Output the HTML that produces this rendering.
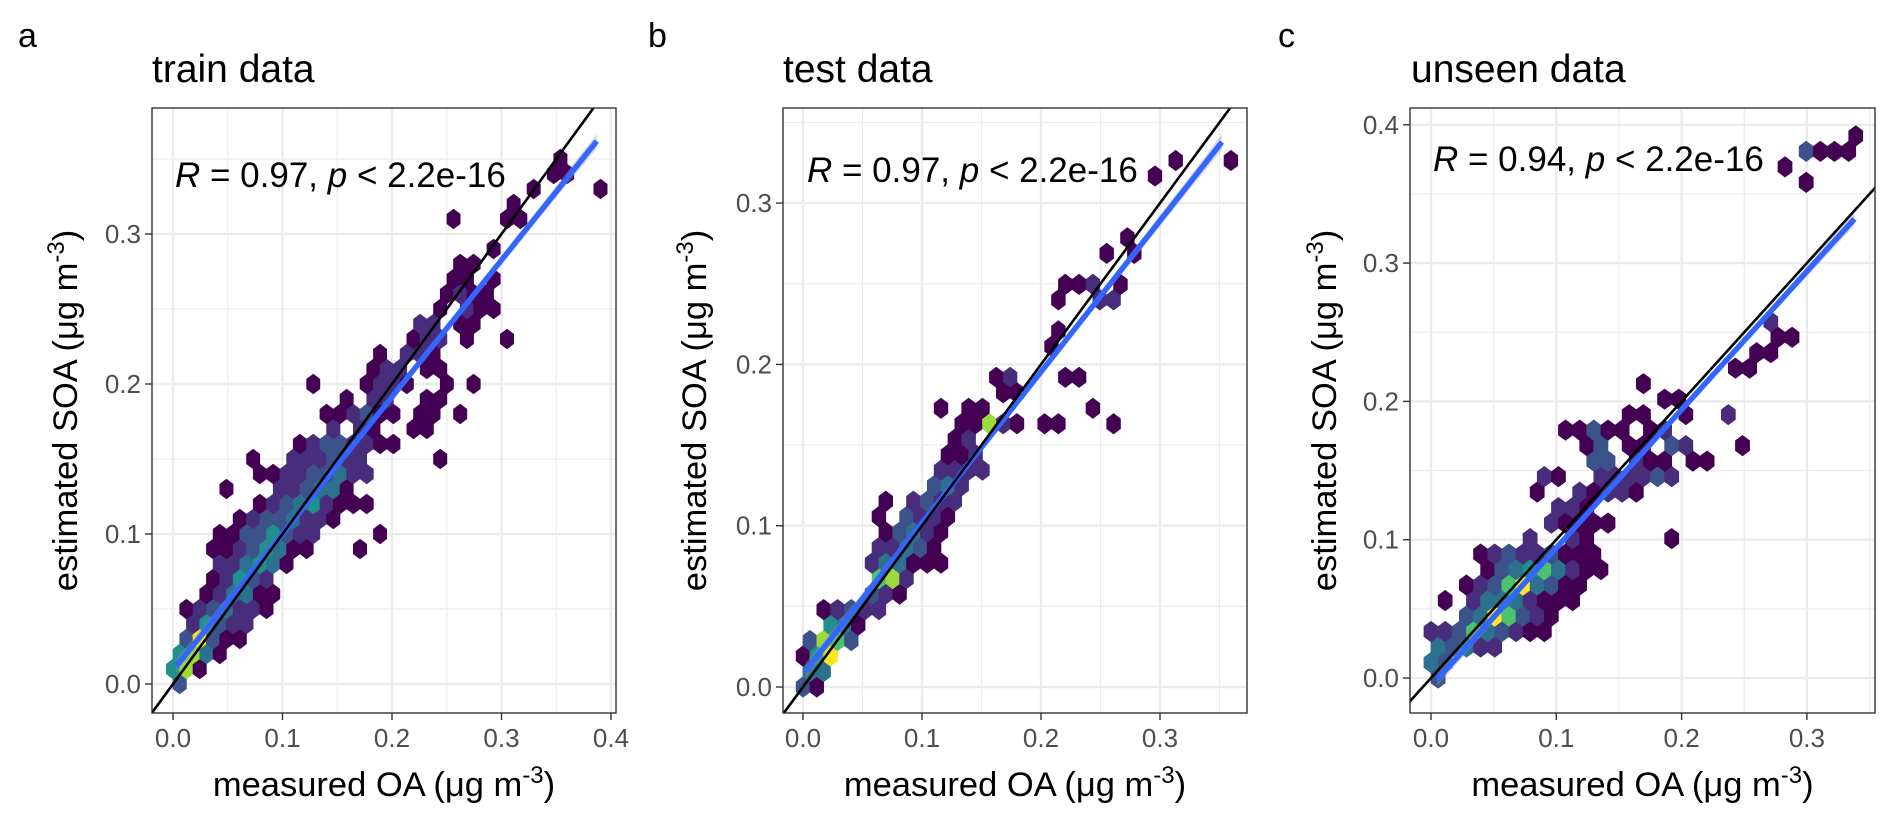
<!DOCTYPE html>
<html>
<head>
<meta charset="utf-8">
<style>
html,body{margin:0;padding:0;background:#fff;}
svg{display:block;font-family:"Liberation Sans",Arial,sans-serif;}
</style>
</head>
<body>
<svg id="fig" width="1892" height="821" viewBox="0 0 1892 821" xmlns="http://www.w3.org/2000/svg">
<rect x="0" y="0" width="1892" height="821" fill="#fff"/>
</svg>
<script>
// ---------- DATA ----------
const panelLabels = ["a", "b", "c"];
const panelTitles = ["train data", "test data", "unseen data"];
const rValues = ["0.97", "0.97", "0.94"];
const xTicksA = [0, 0.1, 0.2, 0.3, 0.4];
const yTicksA = [0, 0.1, 0.2, 0.3];
const xTicksB = [0, 0.1, 0.2, 0.3];
const yTicksB = [0, 0.1, 0.2, 0.3];
const xTicksC = [0, 0.1, 0.2, 0.3];
const yTicksC = [0, 0.1, 0.2, 0.3, 0.4];
// regression fits: [intercept, slope, xStart, xEnd]
const fitA = [0.009, 0.912, 0.003, 0.387];
const fitB = [0.008, 0.937, 0.002, 0.352];
const fitC = [-0.006, 1.0, 0.005, 0.338];
// panel a dense part: row strings (row j, column k, colour level 1..8)
const rowsA = [
"3",
"571",
"5741",
".38311",
".25322",
".1234221",
"..124411",
"...12532",
"...224541",
"...11235411...1",
"...11335322....1",
".....12334221",
"......123452111",
"....1...223441",
"......112233422",
"......1..222322",
".........1233221"
];
const hexA = [
[.244,.15,1],[.198,.16,1],[.151,.17,2],[.165,.17,2],[.178,.17,1],[.216,.17,1],[.231,.17,1],
[.138,.18,1],[.153,.18,1],[.165,.18,2],[.178,.18,3],[.192,.18,1],[.2,.18,1],[.224,.18,1],[.237,.18,1],[.258,.18,1],
[.153,.19,1],[.181,.19,2],[.192,.19,2],[.235,.19,1],[.25,.19,1],
[.134,.2,1],[.172,.2,1],[.187,.2,2],[.201,.2,2],[.213,.2,1],[.251,.2,1],[.276,.2,1],
[.181,.21,1],[.192,.21,1],[.2,.21,2],[.213,.21,2],[.226,.21,1],[.25,.21,1],
[.187,.221,1],[.211,.221,2],[.224,.221,2],[.235,.221,1],
[.216,.232,1],[.231,.232,2],[.243,.232,2],[.269,.232,1],[.308,.232,1],
[.231,.24,2],[.243,.24,2],[.258,.24,1],[.269,.24,1],[.276,.24,1],
[.239,.251,2],[.25,.251,1],[.263,.251,2],[.276,.251,1],[.295,.251,1],
[.25,.261,1],[.263,.261,2],[.276,.261,1],[.29,.261,1],
[.254,.27,1],[.265,.27,1],[.295,.27,1],
[.263,.281,1],[.276,.281,1],[.295,.291,1],
[.257,.312,1],[.306,.312,1],[.319,.312,1],[.314,.323,1],
[.333,.332,1],[.387,.332,1],[.344,.342,1],[.361,.342,1],[.359,.352,1]
];
const hexB = [
[-.0006,.0012,3],[.0109,.0012,1],
[.005,.0116,4],[.016,.0116,4],
[-.0006,.0209,1],[.0109,.0209,5],[.0227,.0209,8],
[.005,.0312,3],[.016,.0312,7],[.028,.0312,6],[.0395,.0312,3],
[.028,.0405,5],[.034,.0405,4],[.045,.0405,1],
[.016,.0498,1],[.028,.0498,2],[.0395,.0498,3],[.051,.0498,2],[.0625,.0498,2],
[.057,.059,3],[.069,.059,2],[.08,.059,1],
[.0625,.0684,6],[.0745,.0684,7],[.0857,.0684,2],
[.057,.0777,2],[.069,.0777,4],[.08,.0777,4],[.0913,.0777,1],[.104,.0777,1],[.115,.0777,1],
[.0625,.087,2],[.0745,.087,2],[.0857,.087,4],[.098,.087,3],[.1095,.087,1],
[.069,.0963,1],[.08,.0963,3],[.0913,.0963,4],[.104,.0963,2],[.115,.0963,1],
[.0625,.1056,1],[.0857,.1056,3],[.098,.1056,2],[.1095,.1056,2],[.1207,.1056,1],
[.069,.1159,1],[.0913,.1159,2],[.104,.1159,3],[.115,.1159,2],[.126,.1159,2],
[.1095,.1252,3],[.1207,.1252,4],[.132,.1252,2],
[.115,.1345,2],[.126,.1345,2],[.1375,.1345,2],[.15,.1345,2],
[.1207,.1438,1],[.132,.1438,1],[.143,.1438,2],
[.126,.153,1],[.1375,.153,2],
[.132,.1624,1],[.143,.1624,1],[.154,.1624,7],[.167,.1624,2],[.1795,.1624,1],
[.116,.17,1],[.1407,.17,1],[.1508,.17,1],
[.1628,.19,1],[.1747,.19,2],[.168,.1805,1],[.18,.1805,1],
[.18,.161,1],[.202,.161,1],[.2139,.161,1],[.2445,.17,1],[.2615,.161,1],[.2207,.19,1],[.2326,.19,1],
[.207,.209,1],[.2156,.2187,1],[.2156,.2366,1],[.2207,.2464,1],[.2326,.2464,1],[.2445,.2464,2],
[.2546,.2366,2],[.2615,.2366,2],[.2683,.2464,1],[.2563,.266,1],[.2734,.274,1],[.2803,.266,1],
[.2972,.312,1],[.3143,.322,1],[.355,.331,1]
];
const hexC = [
[.0045,0,3],
[-.0008,.0133,4],[.0104,.0133,3],
[.0045,.0239,4],[.016,.0239,3],[.0271,.0239,4],[.0383,.0239,2],[.0497,.0239,2],
[-.0008,.0347,2],[.0104,.0347,2],[.0218,.0347,3],[.0325,.0347,6],[.0436,.0347,4],[.055,.0347,3],[.0665,.0347,2],[.0777,.0347,1],[.0888,.0347,1],
[.0271,.0455,3],[.0383,.0455,4],[.0497,.0455,8],[.0604,.0455,6],[.0723,.0455,3],[.083,.0455,2],[.0942,.0455,1],
[.0104,.0564,1],[.0325,.0564,2],[.0436,.0564,4],[.055,.0564,4],[.0665,.0564,4],[.0777,.0564,2],[.0888,.0564,1],[.1003,.0564,1],[.1114,.0564,1],
[.0271,.068,1],[.0383,.068,2],[.0497,.068,3],[.0604,.068,6],[.0723,.068,8],[.083,.068,4],[.0942,.068,3],[.1056,.068,1],[.1168,.068,1],
[.0436,.0788,1],[.055,.0788,3],[.0665,.0788,4],[.0777,.0788,5],[.0888,.0788,6],[.1003,.0788,4],[.1114,.0788,2],[.1229,.0788,1],[.1335,.0788,1],
[.0383,.0896,1],[.0497,.0896,2],[.0604,.0896,3],[.0718,.0896,2],[.083,.0896,2],[.0942,.0896,3],[.1056,.0896,1],[.1168,.0896,1],[.1282,.0896,1],
[.0777,.1005,2],[.1114,.1005,2],[.1229,.1005,1],[.1894,.1005,1],
[.0942,.1126,2],[.1056,.1126,1],[.1168,.1126,1],[.1282,.1126,1],[.1394,.1126,1],
[.1003,.1234,2],[.1114,.1234,2],[.1229,.1234,1],
[.083,.135,1],[.1168,.135,2],[.1282,.135,1],[.1394,.135,2],[.1508,.135,2],[.1615,.135,2],[.1668,.135,1],
[.0888,.1458,2],[.1003,.1458,1],[.1335,.1458,2],[.1455,.1458,2],[.1561,.1458,2],[.1673,.1458,2],[.1788,.1458,3],[.1894,.1458,2],
[.1282,.158,3],[.1394,.158,3],[.1628,.158,2],[.1734,.158,1],[.1841,.158,1],
[.1229,.169,1],[.1335,.169,3],[.1561,.169,1],[.1673,.169,1],[.1894,.169,3],
[.1077,.179,1],[.119,.179,1],[.1293,.179,3],[.141,.179,1],[.1513,.179,1],[.1578,.1896,1],[.1675,.1896,1],
[.1788,.179,1],[.1869,.179,2],[.1675,.2124,1],[.1853,.201,1],[.1966,.201,1],[.203,.1896,1],[.2354,.1896,2],
[.2484,.1667,1],[.2192,.1553,1],[.2095,.1553,1],[.1998,.1667,2],[.1918,.1667,3],
[.2386,.2239,1],[.2484,.2239,1],[.2548,.2353,1],[.2596,.2239,1],[.2694,.2353,1],[.271,.2581,2],
[.2758,.2467,1],[.2871,.2467,1],[.2823,.3715,1],[.2985,.359,1],[.2985,.3818,3],[.3098,.3818,1],
[.3211,.3818,1],[.3324,.3818,1],[.3382,.3932,1]
];

// ---------- LAYOUT (not data) ----------
const NS = "http://www.w3.org/2000/svg";
const svg = document.getElementById("fig");
const levelColors = ["#440154","#440154","#472d7b","#3b528b","#2c728e","#21908d","#4cc26c","#9bd93c","#fde725"];
const panels = [
 {key:"a", left:152, top:108, right:616, bottom:713, x0:173, xs:1095, y0:684, ys:1500, dx:.0122, dy:.01, off0:.0061,
  xt:xTicksA, yt:yTicksA, fit:fitA, hex:hexA, rows:rowsA, labX:18, titleX:152, rX:175, rY:187, ytitleX:66},
 {key:"b", left:783, top:108, right:1247, bottom:713, x0:803, xs:1190, y0:687, ys:1613, dx:.0116, dy:.0096, off0:0,
  xt:xTicksB, yt:yTicksB, fit:fitB, hex:hexB, rows:null, labX:648, titleX:783, rX:807, rY:182, ytitleX:695},
 {key:"c", left:1410, top:108, right:1875, bottom:713, x0:1431, xs:1253, y0:678, ys:1383, dx:.0113, dy:.0112, off0:.00565,
  xt:xTicksC, yt:yTicksC, fit:fitC, hex:hexC, rows:null, labX:1278, titleX:1411, rX:1433, rY:171, ytitleX:1325}
];
function mk(tag, attrs, parent){
  const e = document.createElementNS(NS, tag);
  for (const k in attrs) e.setAttribute(k, attrs[k]);
  (parent||svg).appendChild(e);
  return e;
}

panels.forEach((p, i) => {
  const sx = v => p.x0 + v * p.xs;
  const sy = v => p.y0 - v * p.ys;
  const xmin = (p.left - p.x0)/p.xs, xmax = (p.right - p.x0)/p.xs;
  const ymin = (p.y0 - p.bottom)/p.ys, ymax = (p.y0 - p.top)/p.ys;
  const g = mk("g", {});
  
  

  const clip = mk("clipPath", {id:"clip"+p.key}, g);
  mk("rect", {x:p.left, y:p.top, width:p.right-p.left, height:p.bottom-p.top}, clip);

  // grid
  const grid = mk("g", {}, g);
  
  
  const step = 0.05;
  for (let v = Math.ceil(xmin/step)*step; v <= xmax; v += step) {
    const major = Math.abs(Math.round(v*10) - v*10) < 1e-6;
    mk("line", {x1:sx(v), x2:sx(v), y1:p.top, y2:p.bottom, stroke:"#ebebeb", "stroke-width": major?2.4:1.2}, grid);
  }
  for (let v = Math.ceil(ymin/step)*step; v <= ymax; v += step) {
    const major = Math.abs(Math.round(v*10) - v*10) < 1e-6;
    mk("line", {x1:p.left, x2:p.right, y1:sy(v), y2:sy(v), stroke:"#ebebeb", "stroke-width": major?2.4:1.2}, grid);
  }

  // hexes
  const hg = mk("g", {"clip-path":"url(#clip"+p.key+")"}, g);
  
  
  const cells = new Map();
  const rowOff = j => (j % 2 === 0) ? p.off0 : ((p.off0 + p.dx/2) % p.dx);
  if (p.rows) {
    p.rows.forEach((s, j) => {
      for (let k = 0; k < s.length; k++) {
        if (s[k] !== '.') cells.set(j+","+k, [j, k, +s[k]]);
      }
    });
  }
  p.hex.forEach(([x, y, l]) => {
    const j = Math.round(y / p.dy);
    const k = Math.round((x - rowOff(j)) / p.dx);
    cells.set(j+","+k, [j, k, l]);
  });
  const hw = p.dx * p.xs / 2 + 0.3, hh = p.dy * p.ys / 3;
  cells.forEach(([j, k, l]) => {
    const cx = sx(k * p.dx + rowOff(j)), cy = sy(j * p.dy);
    const pts = [[0,-2*hh-0.3],[hw,-hh],[hw,hh],[0,2*hh+0.3],[-hw,hh],[-hw,-hh]]
      .map(([a,b]) => (cx+a).toFixed(1)+","+(cy+b).toFixed(1)).join(" ");
    const h = mk("polygon", {points:pts, fill:levelColors[l]}, hg);
    
    
  });

  // regression ribbon + line
  const [b0, b1, xs0, xs1] = p.fit;
  const lg = mk("g", {"clip-path":"url(#clip"+p.key+")"}, g);
  const xm = (xs0 + xs1)/2;
  const se = x => 0.002 + 0.012 * Math.pow((x - xm)/(xs1 - xs0), 2);
  const N = 20, up = [], dn = [];
  for (let t = 0; t <= N; t++) {
    const x = xs0 + (xs1 - xs0)*t/N;
    up.push(sx(x).toFixed(1)+","+sy(b0+b1*x+se(x)).toFixed(1));
    dn.unshift(sx(x).toFixed(1)+","+sy(b0+b1*x-se(x)).toFixed(1));
  }
  const rib = mk("polygon", {points:up.concat(dn).join(" "), fill:"#999", "fill-opacity":0.35}, lg);
  
  
  const bl = mk("line", {x1:sx(xs0), y1:sy(b0+b1*xs0), x2:sx(xs1), y2:sy(b0+b1*xs1), stroke:"#3366ff", "stroke-width":5.5}, lg);
  
  
  const kl = mk("line", {x1:sx(xmin-0.02), y1:sy(xmin-0.02), x2:sx(xmax+0.02), y2:sy(xmax+0.02), stroke:"#000", "stroke-width":2.6}, lg);
  
  

  // border
  const br = mk("rect", {x:p.left, y:p.top, width:p.right-p.left, height:p.bottom-p.top, fill:"none", stroke:"#333", "stroke-width":1.4}, g);
  
  

  // ticks + labels
  p.xt.forEach(v => {
    mk("line", {x1:sx(v), x2:sx(v), y1:p.bottom, y2:p.bottom+7, stroke:"#333", "stroke-width":1.4}, g);
    const t = mk("text", {x:sx(v), y:747, "text-anchor":"middle", "font-size":26, fill:"#4d4d4d"}, g);
    t.textContent = v.toFixed(1);
    
    
  });
  p.yt.forEach(v => {
    mk("line", {x1:p.left-7, x2:p.left, y1:sy(v), y2:sy(v), stroke:"#333", "stroke-width":1.4}, g);
    const t = mk("text", {x:p.left-11, y:sy(v)+9, "text-anchor":"end", "font-size":26, fill:"#4d4d4d"}, g);
    t.textContent = v.toFixed(1);
    
    
  });

  // annotation
  const ann = mk("text", {x:p.rX, y:p.rY, "font-size":35, fill:"#000"}, g);
  
  
  ann.innerHTML = '<tspan font-style="italic">R</tspan> = ' + rValues[i] + ', <tspan font-style="italic">p</tspan> &lt; 2.2e-16';

  // titles
  const lab = mk("text", {x:p.labX, y:47, "font-size":34, fill:"#000"}, g);
  lab.textContent = panelLabels[i];
  
  
  const tt = mk("text", {x:p.titleX, y:82, "font-size":39, fill:"#000"}, g);
  tt.textContent = panelTitles[i];
  
  

  const xt = mk("text", {x:(p.left+p.right)/2, y:796, "text-anchor":"middle", "font-size":34.5, fill:"#000"}, g);
  xt.innerHTML = 'measured OA (μg m<tspan dy="-13" font-size="24">-3</tspan><tspan dy="13">)</tspan>';
  
  
  const cy = (p.top+p.bottom)/2;
  const yt = mk("text", {x:0, y:0, "text-anchor":"middle", "font-size":34.5, fill:"#000",
    transform:"translate(" + (p.ytitleX+11) + "," + cy + ") rotate(-90)"}, g);
  yt.innerHTML = 'estimated SOA (μg m<tspan dy="-13" font-size="24">-3</tspan><tspan dy="13">)</tspan>';
  
  
});
</script>
</body>
</html>
